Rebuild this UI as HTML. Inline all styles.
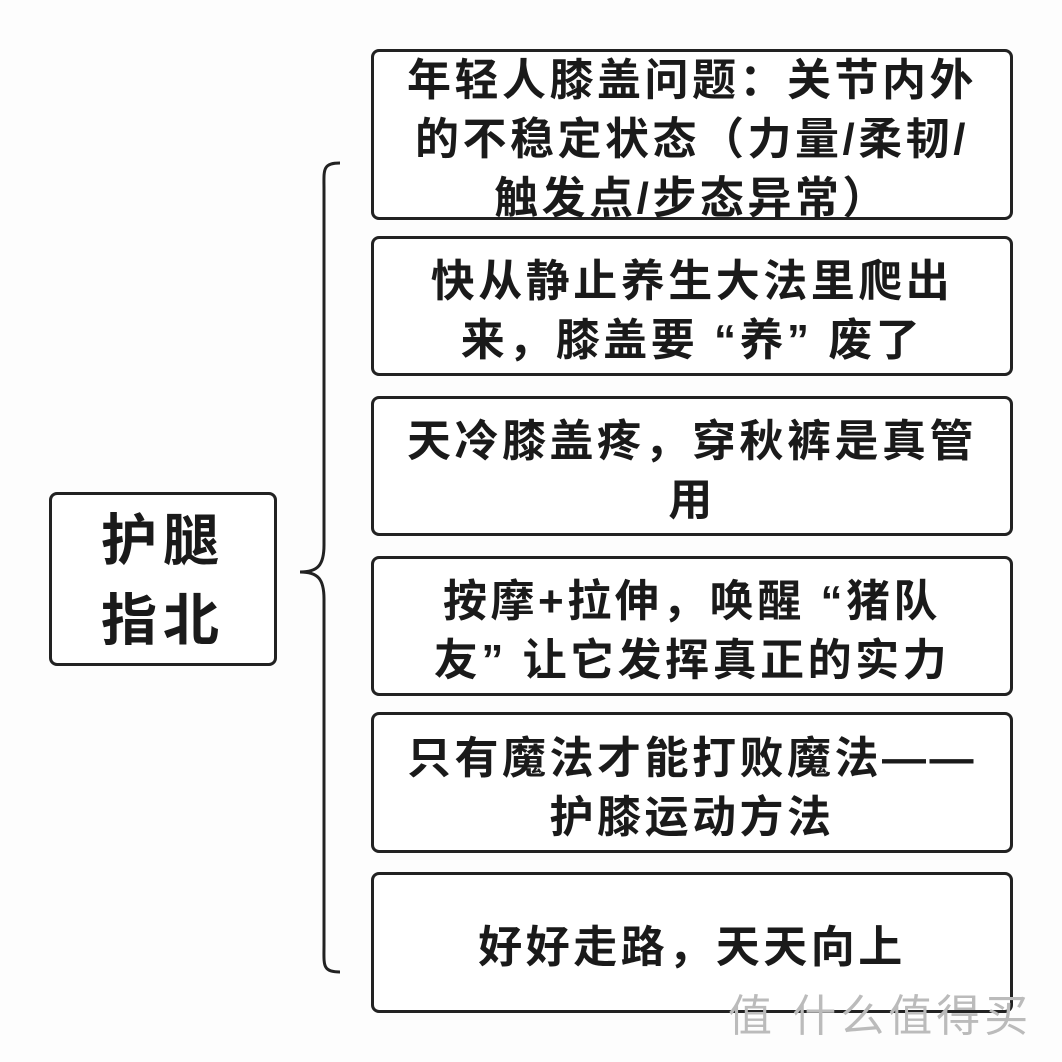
<!DOCTYPE html>
<html><head><meta charset="utf-8"><style>
body{margin:0;width:1062px;height:1062px;background:#fdfdfd;position:relative;overflow:hidden;font-family:"Liberation Sans","Noto Sans CJK SC",sans-serif;color:#1a1a1a}
.b{position:absolute;border:3px solid #222;border-radius:8px;background:#fff;box-sizing:border-box;display:flex;align-items:center;justify-content:center;text-align:center;font-weight:bold;font-size:44px;letter-spacing:3.5px;line-height:59px;padding-top:10px}
.r{left:371px;width:642px}
.wm{position:absolute;color:#bbb;font-size:44px;left:728px;top:980px;letter-spacing:4px}
</style></head><body>
<div class="b" style="left:49px;top:492px;width:228px;height:174px;font-size:56px;line-height:80px;letter-spacing:6px;padding-top:4px">护腿<br>指北</div>
<svg style="position:absolute;left:0;top:0" width="1062" height="1062"><path d="M340,163 C322,163 324,170 324,190 L324,545 C324,565 318,572 300,572 C318,572 324,579 324,599 L324,945 C324,965 322,972 340,972" fill="none" stroke="#222" stroke-width="3"/></svg>
<div class="b r" style="top:49px;height:171px">年轻人膝盖问题：关节内外<br>的不稳定状态（力量/柔韧/<br>触发点/步态异常）</div>
<div class="b r" style="top:236px;height:140px">快从静止养生大法里爬出<br>来，膝盖要 “养” 废了</div>
<div class="b r" style="top:396px;height:140px">天冷膝盖疼，穿秋裤是真管<br>用</div>
<div class="b r" style="top:556px;height:140px">按摩+拉伸，唤醒 “猪队<br>友” 让它发挥真正的实力</div>
<div class="b r" style="top:712px;height:141px">只有魔法才能打败魔法——<br>护膝运动方法</div>
<div class="b r" style="top:872px;height:141px">好好走路，天天向上</div>
<div class="wm">值 什么值得买</div>
</body></html>
